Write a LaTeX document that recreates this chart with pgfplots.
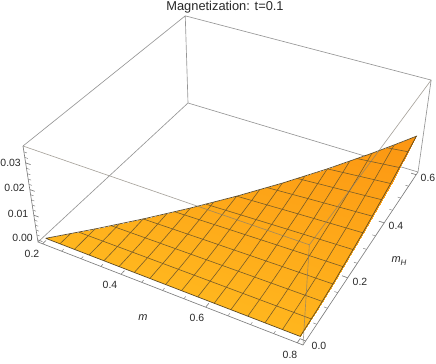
\documentclass[border=0pt]{standalone}
\usepackage{pgfplots}
\pgfplotsset{compat=1.18}
\usepackage{fontspec}
\setmainfont{Liberation Sans}
% perspective projection of the (m, mH, z) box on to the picture
\newcommand\Um{((\thisrow{m}-0.188)/0.624)}
\newcommand\Vm{((\thisrow{mH}+0.012)/0.624)}
\newcommand\Wm{(0.025+27*\thisrow{z})}
\newcommand\Dn{(1-0.11325*\Um+0.2088*\Vm-0.072*\Wm)}
\newcommand\PX{((230.68*\Um+189.25*\Vm+38-16.66*\Wm)/\Dn)}
\newcommand\PY{((63.93*\Um-117.49*\Vm+242-106.5*\Wm)/\Dn)}
\definecolor{boxgray}{RGB}{150,150,150}
\definecolor{axgray}{RGB}{125,125,125}
\definecolor{meshc}{RGB}{120,92,40}
\definecolor{edgec}{RGB}{95,75,35}
\definecolor{txt}{RGB}{40,40,40}
\begin{document}
\begin{tikzpicture}[x=1bp,y=1bp]
\useasboundingbox (0,0) rectangle (436,363);
\begin{axis}[
  at={(0,0)},anchor=south west,
  width=436bp,height=363bp,scale only axis,
  xmin=0,xmax=436,ymin=0,ymax=363,y dir=reverse,
  axis lines=none,clip=false,
  empty line=jump,unbounded coords=jump,
  colormap={or}{rgb255=(255,182,30) rgb255=(252,150,18)},
  point meta min=0,point meta max=0.6,
]
% box edges behind the surface
\addplot[boxgray,line width=0.65pt,mark=none] table[x expr=\PX,y expr=\PY] {
m mH z
0.188 -0.012 -0.000926
0.188 0.612 -0.000926
0.812 0.612 -0.000926

0.188 0.612 -0.000926
0.188 0.612 0.03611

0.188 -0.012 0.03611
0.188 0.612 0.03611
0.812 0.612 0.03611
0.812 0.612 -0.000926
};
% surface
\addplot[patch,patch type=triangle,shader=interp,point meta=explicit] table[x expr=\PX,y expr=\PY,meta=mH] {
m mH z
0.6 0.15 0.00131
0.2 0 0
0.8 0 0
0.6 0.15 0.00131
0.8 0 0
0.8 0.075 0.00065
0.6 0.15 0.00131
0.8 0.075 0.00065
0.8 0.15 0.00183
0.6 0.15 0.00131
0.8 0.15 0.00183
0.8 0.3 0.00516
0.6 0.15 0.00131
0.8 0.3 0.00516
0.8 0.45 0.00948
0.6 0.15 0.00131
0.8 0.45 0.00948
0.8 0.6 0.0146
0.6 0.15 0.00131
0.8 0.6 0.0146
0.7625 0.5625 0.01259
0.6 0.15 0.00131
0.7625 0.5625 0.01259
0.725 0.525 0.01074
0.6 0.15 0.00131
0.725 0.525 0.01074
0.65 0.45 0.00753
0.6 0.15 0.00131
0.65 0.45 0.00753
0.575 0.375 0.00495
0.6 0.15 0.00131
0.575 0.375 0.00495
0.5 0.3 0.00296
0.6 0.15 0.00131
0.5 0.3 0.00296
0.425 0.225 0.00153
0.6 0.15 0.00131
0.425 0.225 0.00153
0.35 0.15 0.0006
0.6 0.15 0.00131
0.35 0.15 0.0006
0.275 0.075 0.00012
0.6 0.15 0.00131
0.275 0.075 0.00012
0.2 0 0
};
% mesh lines at constant m
\addplot[meshc,line width=0.6pt,mark=none] table[x expr=\PX,y expr=\PY] {
m mH z
0.2375 0 0
0.2375 0.0375 0.00002

0.275 0 0
0.275 0.0375 0.00004
0.275 0.075 0.00012

0.3125 0 0
0.3125 0.075 0.00017
0.3125 0.1125 0.00031

0.35 0 0
0.35 0.075 0.00021
0.35 0.15 0.0006

0.3875 0 0
0.3875 0.075 0.00025
0.3875 0.15 0.00072
0.3875 0.1875 0.00101

0.425 0 0
0.425 0.075 0.00029
0.425 0.15 0.00083
0.425 0.225 0.00153

0.4625 0 0
0.4625 0.075 0.00033
0.4625 0.15 0.00094
0.4625 0.2625 0.00218

0.5 0 0
0.5 0.075 0.00037
0.5 0.15 0.00105
0.5 0.3 0.00296

0.5375 0 0
0.5375 0.075 0.00041
0.5375 0.15 0.00115
0.5375 0.3 0.00326
0.5375 0.3375 0.00389

0.575 0 0
0.575 0.075 0.00044
0.575 0.15 0.00125
0.575 0.3 0.00354
0.575 0.375 0.00495

0.6125 0 0
0.6125 0.075 0.00048
0.6125 0.15 0.00135
0.6125 0.3 0.00383
0.6125 0.4125 0.00617

0.65 0 0
0.65 0.075 0.00051
0.65 0.15 0.00145
0.65 0.3 0.0041
0.65 0.45 0.00753

0.6875 0 0
0.6875 0.075 0.00055
0.6875 0.15 0.00155
0.6875 0.3 0.00437
0.6875 0.45 0.00803
0.6875 0.4875 0.00906

0.725 0 0
0.725 0.075 0.00058
0.725 0.15 0.00164
0.725 0.3 0.00464
0.725 0.45 0.00852
0.725 0.525 0.01074

0.7625 0 0
0.7625 0.075 0.00061
0.7625 0.15 0.00173
0.7625 0.3 0.0049
0.7625 0.45 0.00901
0.7625 0.5625 0.01259
};
% mesh lines at constant mH
\addplot[meshc,line width=0.6pt,mark=none] table[x expr=\PX,y expr=\PY] {
m mH z
0.25 0.05 0.00005
0.35 0.05 0.00012
0.5 0.05 0.0002
0.65 0.05 0.00028
0.8 0.05 0.00035

0.3 0.1 0.00024
0.35 0.1 0.00033
0.5 0.1 0.00057
0.65 0.1 0.00079
0.8 0.1 0.00099

0.35 0.15 0.0006
0.5 0.15 0.00105
0.65 0.15 0.00145
0.8 0.15 0.00183

0.4 0.2 0.00117
0.5 0.2 0.00161
0.65 0.2 0.00223
0.8 0.2 0.00281

0.45 0.25 0.00195
0.5 0.25 0.00225
0.65 0.25 0.00312
0.8 0.25 0.00393

0.5 0.3 0.00296
0.65 0.3 0.0041
0.8 0.3 0.00516

0.55 0.35 0.00422
0.65 0.35 0.00517
0.8 0.35 0.0065

0.6 0.4 0.00575
0.65 0.4 0.00631
0.8 0.4 0.00795

0.65 0.45 0.00753
0.725 0.45 0.00852
0.8 0.45 0.00948

0.7 0.5 0.0096
0.8 0.5 0.01111

0.75 0.55 0.01195
0.8 0.55 0.01281
};
% surface outline
\addplot[edgec,line width=0.7pt,mark=none] table[x expr=\PX,y expr=\PY] {
m mH z
0.2 0 0
0.8 0 0
0.8 0.075 0.00065
0.8 0.15 0.00183
0.8 0.3 0.00516
0.8 0.45 0.00948
0.8 0.6 0.0146
0.7625 0.5625 0.01259
0.725 0.525 0.01074
0.65 0.45 0.00753
0.575 0.375 0.00495
0.5 0.3 0.00296
0.425 0.225 0.00153
0.35 0.15 0.0006
0.275 0.075 0.00012
0.2 0 0
};
% box edges in front of the surface
\addplot[color={rgb,255:red,130;green,125;blue,115},line width=0.65pt,mark=none,opacity=0.7] table[x expr=\PX,y expr=\PY] {
m mH z
0.188 -0.012 0.03611
0.812 -0.012 0.03611
0.812 0.612 0.03611

0.812 -0.012 0.03611
0.812 -0.012 -0.000926
};
% axes with their ticks
\addplot[axgray,line width=0.65pt,mark=none] table[x expr=\PX,y expr=\PY] {
m mH z
0.188 -0.012 0.03611
0.188 -0.012 -0.000926
0.812 -0.012 -0.000926
0.812 0.612 -0.000926

0.2 -0.012 -0.000926
0.2 0.0005 -0.000926

0.4 -0.012 -0.000926
0.4 0.0005 -0.000926

0.6 -0.012 -0.000926
0.6 0.0005 -0.000926

0.8 -0.012 -0.000926
0.8 0.0005 -0.000926

0.812 0 -0.000926
0.7995 0 -0.000926

0.812 0.2 -0.000926
0.7995 0.2 -0.000926

0.812 0.4 -0.000926
0.7995 0.4 -0.000926

0.812 0.6 -0.000926
0.7995 0.6 -0.000926

0.188 -0.012 0
0.2005 -0.012 0

0.188 -0.012 0.01
0.2005 -0.012 0.01

0.188 -0.012 0.02
0.2005 -0.012 0.02

0.188 -0.012 0.03
0.2005 -0.012 0.03
};
\addplot[axgray,line width=0.45pt,mark=none] table[x expr=\PX,y expr=\PY] {
m mH z
0.25 -0.012 -0.000926
0.25 -0.0045 -0.000926

0.3 -0.012 -0.000926
0.3 -0.0045 -0.000926

0.35 -0.012 -0.000926
0.35 -0.0045 -0.000926

0.45 -0.012 -0.000926
0.45 -0.0045 -0.000926

0.5 -0.012 -0.000926
0.5 -0.0045 -0.000926

0.55 -0.012 -0.000926
0.55 -0.0045 -0.000926

0.65 -0.012 -0.000926
0.65 -0.0045 -0.000926

0.7 -0.012 -0.000926
0.7 -0.0045 -0.000926

0.75 -0.012 -0.000926
0.75 -0.0045 -0.000926

0.812 0.05 -0.000926
0.8045 0.05 -0.000926

0.812 0.1 -0.000926
0.8045 0.1 -0.000926

0.812 0.15 -0.000926
0.8045 0.15 -0.000926

0.812 0.25 -0.000926
0.8045 0.25 -0.000926

0.812 0.3 -0.000926
0.8045 0.3 -0.000926

0.812 0.35 -0.000926
0.8045 0.35 -0.000926

0.812 0.45 -0.000926
0.8045 0.45 -0.000926

0.812 0.5 -0.000926
0.8045 0.5 -0.000926

0.812 0.55 -0.000926
0.8045 0.55 -0.000926

0.188 -0.012 0.002
0.1955 -0.012 0.002

0.188 -0.012 0.004
0.1955 -0.012 0.004

0.188 -0.012 0.006
0.1955 -0.012 0.006

0.188 -0.012 0.008
0.1955 -0.012 0.008

0.188 -0.012 0.012
0.1955 -0.012 0.012

0.188 -0.012 0.014
0.1955 -0.012 0.014

0.188 -0.012 0.016
0.1955 -0.012 0.016

0.188 -0.012 0.018
0.1955 -0.012 0.018

0.188 -0.012 0.022
0.1955 -0.012 0.022

0.188 -0.012 0.024
0.1955 -0.012 0.024

0.188 -0.012 0.026
0.1955 -0.012 0.026

0.188 -0.012 0.028
0.1955 -0.012 0.028

0.188 -0.012 0.032
0.1955 -0.012 0.032

0.188 -0.012 0.034
0.1955 -0.012 0.034
};
% texts
\node[text=txt,font=\fontsize{12.9}{14}\selectfont] at (axis cs:225,7.5) {Magnetization: t=0.1};
\tikzset{tl/.style={text=txt,font=\fontsize{10.5}{12}\selectfont,inner sep=0pt}}
\node[tl,anchor=east] at (axis cs:21,163) {0.03};
\node[tl,anchor=east] at (axis cs:25,188) {0.02};
\node[tl,anchor=east] at (axis cs:28.5,213.5) {0.01};
\node[tl,anchor=east] at (axis cs:33,238) {0.00};
\node[tl] at (axis cs:32,254) {0.2};
\node[tl] at (axis cs:110,285) {0.4};
\node[tl] at (axis cs:197,318) {0.6};
\node[tl] at (axis cs:290,355) {0.8};
\node[tl] at (axis cs:319,346) {0.0};
\node[tl] at (axis cs:360,282) {0.2};
\node[tl] at (axis cs:396,226) {0.4};
\node[tl] at (axis cs:428,178) {0.6};
\node[tl,font=\fontsize{11}{12}\selectfont] at (axis cs:143,318) {\itshape m};
\node[tl,font=\fontsize{11}{12}\selectfont] at (axis cs:399,261) {\itshape m\raisebox{-0.25em}{\fontsize{8}{9}\selectfont H}};
\end{axis}
\end{tikzpicture}
\end{document}
